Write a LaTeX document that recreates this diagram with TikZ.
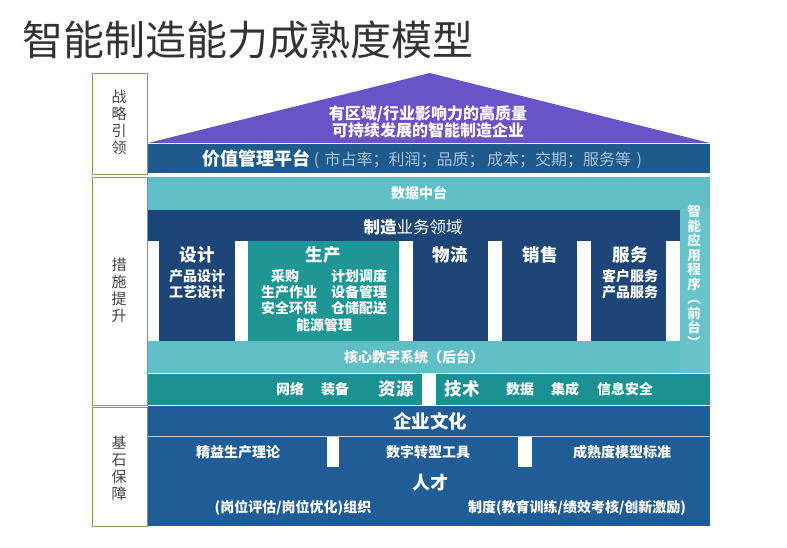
\documentclass[tikz,border=0pt]{standalone}
\usepackage{fontspec}
\setmainfont{Noto Sans CJK SC}
\newcommand\fsz[1]{\fontsize{#1}{#1}\selectfont}
\newcommand\fszl[2]{\fontsize{#1}{#2}\selectfont}
\definecolor{roofc}{HTML}{6A52C8}
\definecolor{vpc}{HTML}{1E5A8C}
\definecolor{ltc}{HTML}{5FBEC6}
\definecolor{ltc2}{HTML}{68C3CA}
\definecolor{navyc}{HTML}{1C4678}
\definecolor{prodc}{HTML}{1E9696}
\definecolor{resc}{HTML}{1C9194}
\definecolor{basec}{HTML}{205C96}
\definecolor{greenc}{HTML}{78A05A}
\definecolor{vptxt}{HTML}{A8C4DC}
\definecolor{titlec}{HTML}{333333}
\definecolor{sidetxt}{HTML}{444444}
\begin{document}
\begin{tikzpicture}[x=1pt,y=-1pt,
  sidebox/.style={draw=greenc,line width=0.8pt,fill=white},
  sidelbl/.style={text=sidetxt,font=\fszl{15}{17},align=center,inner sep=0pt},
  wt/.style={text=white,inner sep=0pt,font=\fsz{14}\bfseries},
  big/.style={text=white,inner sep=0pt,font=\fsz{17.5}\bfseries},
  items/.style={text=white,inner sep=0pt,font=\fszl{14}{16}\bfseries,align=center}]
\useasboundingbox (0,0) rectangle (787,547);
% title
\node[text=titlec,font=\fsz{41},anchor=west,inner sep=0pt] (title) at (22,40) {智能制造能力成熟度模型};
% left column
\draw[sidebox] (92,73) rectangle (147,174);
\draw[sidebox] (92,177) rectangle (147,405);
\draw[sidebox] (92,407) rectangle (147,526);
\node[sidelbl] (s1) at (119,122) {战\\略\\引\\领};
\node[sidelbl] (s2) at (119,290) {措\\施\\提\\升};
\node[sidelbl] (s3) at (119,468) {基\\石\\保\\障};
% roof
\fill[roofc] (148,143) -- (430,73) -- (710,143) -- cycle;
\node[text=white,font=\fszl{16}{17}\bfseries,align=center,inner sep=0pt] (goal) at (428,121.5) {有区域/行业影响力的高质量\\可持续发展的智能制造企业};
% value platform
\fill[vpc] (148,144) rectangle (710,173);
\node[anchor=west,inner sep=0pt] (vp) at (202,159) {{\color{white}\fsz{18}\bfseries 价值管理平台}{\color{vptxt}\fsz{16} (\,\,市占率；利润；品质；\,成本；交期；服务等\,\,)}};
% data center
\fill[ltc] (148,177) rectangle (710,373);
\fill[ltc2] (680,209) rectangle (710,373);
\node[wt] (dc) at (419,193) {数据中台};
% manufacturing domain
\fill[navyc] (148,210) rectangle (680,241);
\fill[white] (148,241) rectangle (680,341);
\node[inner sep=0pt,text=white] (mfg) at (413,227) {{\fsz{16.5}\bfseries 制造}{\fsz{16.5}业务领域}};
\fill[navyc] (159,241) rectangle (235,341);
\fill[prodc] (248,241) rectangle (399,341);
\fill[navyc] (413,241) rectangle (488,341);
\fill[navyc] (502,241) rectangle (577,341);
\fill[navyc] (591,241) rectangle (666,341);
\node[big] (design) at (197,255) {设计};
\node[items] (designi) at (197,284) {产品设计\\工艺设计};
\node[big] (prod) at (323,255) {生产};
\node[wt] (p1) at (285,276) {采购};
\node[wt] (p2) at (359,276) {计划调度};
\node[wt] (p3) at (289,292) {生产作业};
\node[wt] (p4) at (359,292) {设备管理};
\node[wt] (p5) at (289,308) {安全环保};
\node[wt] (p6) at (359,308) {仓储配送};
\node[wt] (p7) at (324,325) {能源管理};
\node[big] (logi) at (450,255) {物流};
\node[big] (sales) at (540,255) {销售};
\node[big] (serv) at (630,255) {服务};
\node[items] (servi) at (630,284) {客户服务\\产品服务};
\node[text=white!92!ltc,font=\fszl{13.5}{14.5}\bfseries,align=center,inner sep=0pt] (apps) at (694,276) {智\\能\\应\\用\\程\\序\\︵\\前\\台\\︶};
% core digital
\node[wt] (core) at (414,357) {核心数字系统（后台）};
% resources / technology
\fill[resc] (148,374) rectangle (710,405);
\fill[white] (422,374) rectangle (436,405);
\node[wt] (r1) at (290,389) {网络};
\node[wt] (r2) at (335,389) {装备};
\node[big] (res) at (396,389) {资源};
\node[big] (tech) at (462,389) {技术};
\node[wt] (t1) at (520,389) {数据};
\node[wt] (t2) at (565,389) {集成};
\node[wt] (t3) at (625,389) {信息安全};
% base
\fill[basec] (148,406) rectangle (710,526);
\draw[white!70!basec,line width=0.8pt] (148,436) -- (710,436);
\fill[white] (327,437) rectangle (339,467);
\fill[white] (518,437) rectangle (532,467);
\node[big,font=\fsz{18.5}\bfseries] (culture) at (430,421) {企业文化};
\node[wt] (b1) at (238,452) {精益生产理论};
\node[wt] (b2) at (428,452) {数字转型工具};
\node[wt] (b3) at (622,452) {成熟度模型标准};
\node[big,font=\fsz{18}\bfseries] (talent) at (430,483) {人才};
\node[wt] (b4) at (293,508) {(岗位评估/岗位优化)组织};
\node[wt] (b5) at (577,508) {制度(教育训练/绩效考核/创新激励)};
\end{tikzpicture}
\end{document}
